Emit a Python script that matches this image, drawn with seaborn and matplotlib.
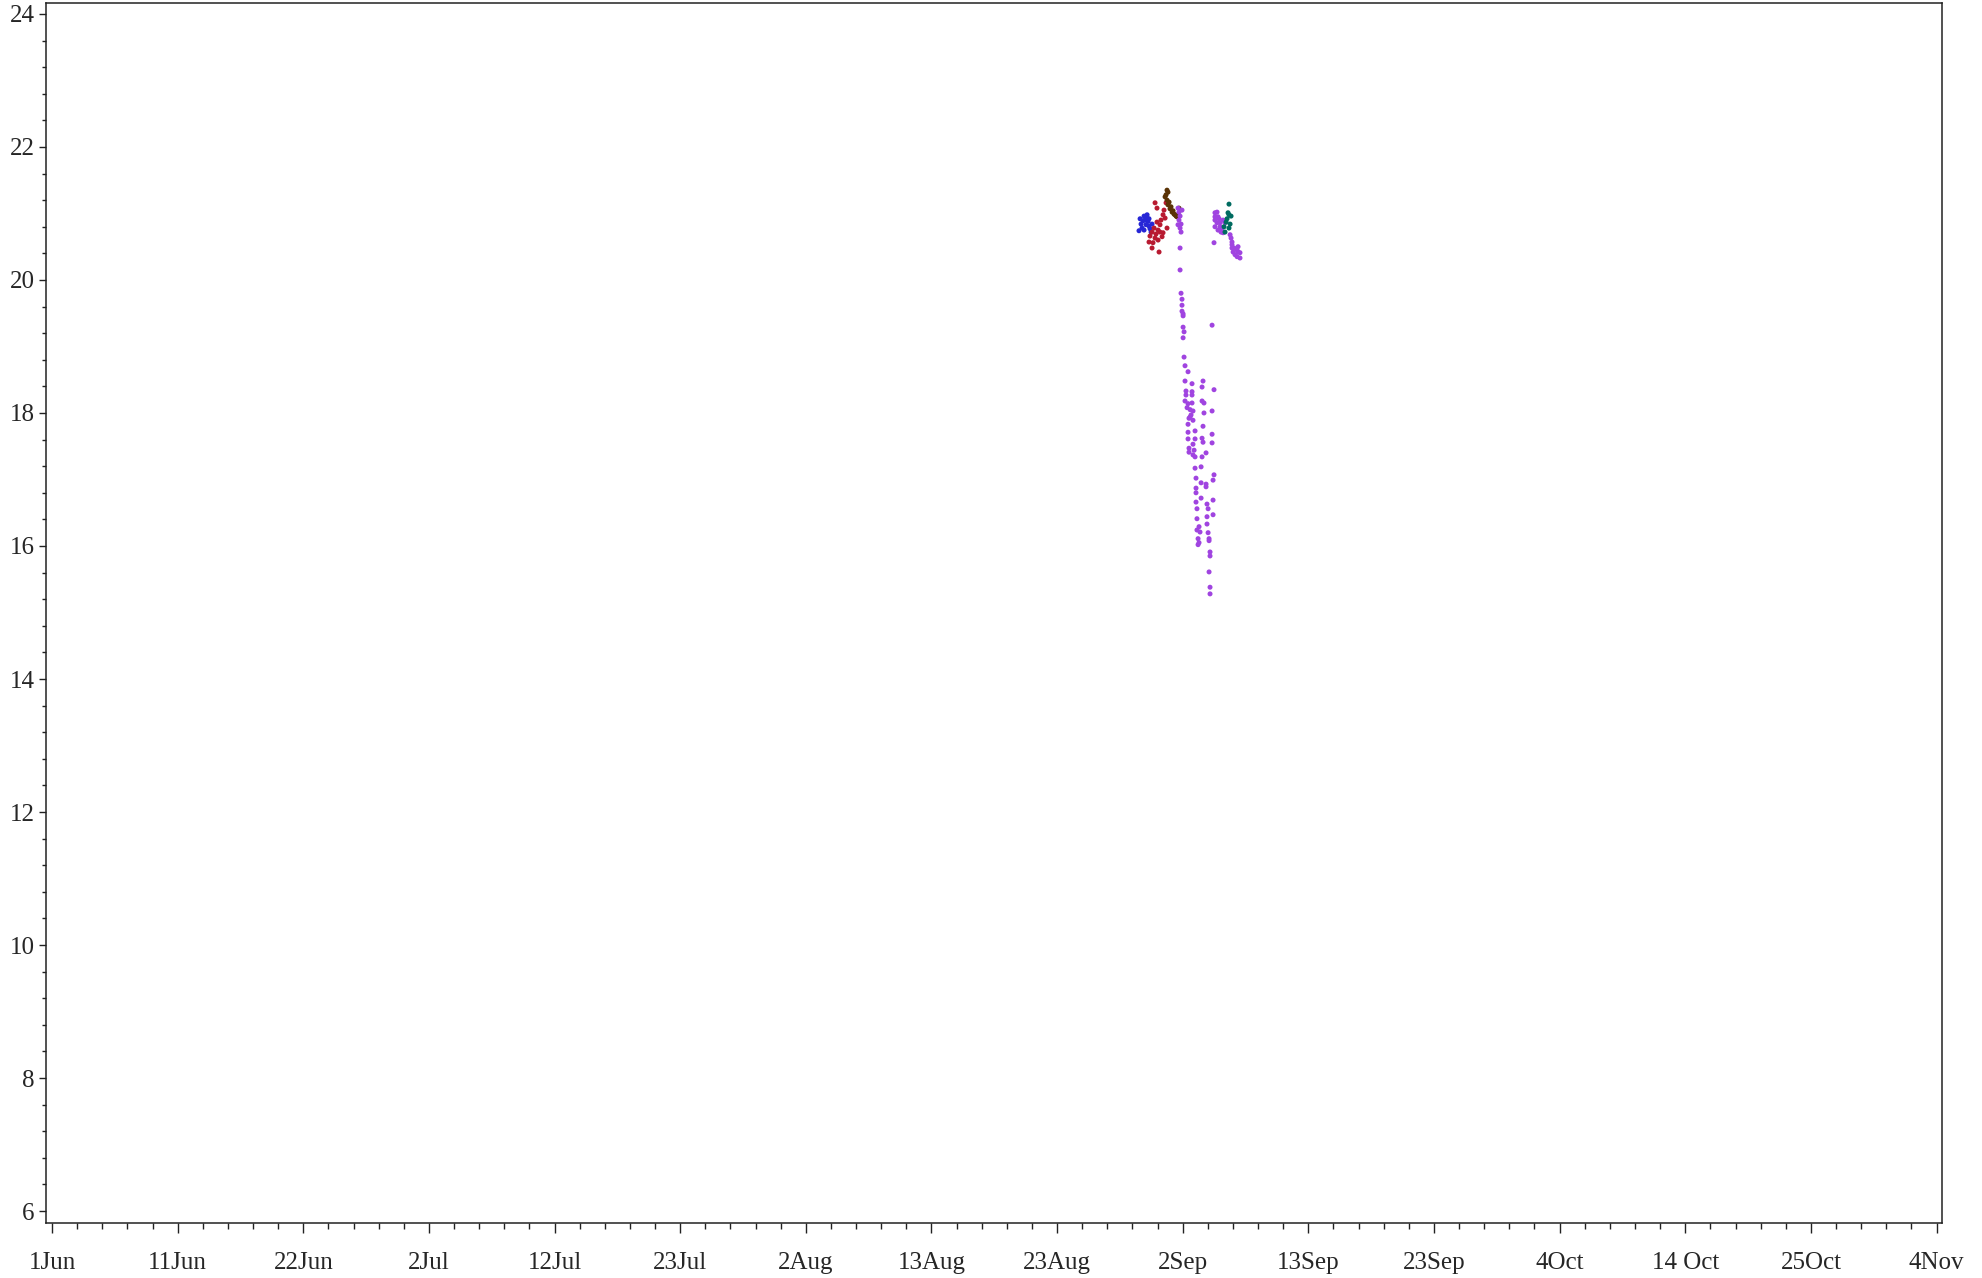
from pathlib import Path

import matplotlib.pyplot as plt
import pandas as pd
import seaborn as sns
from matplotlib.ticker import AutoMinorLocator, FixedLocator, MultipleLocator


OUT_PATH = Path("out.png")

# x values are days since 1 Jun
BLUE_DAY = [90.07, 90.15, 90.23, 90.31, 90.40, 90.48, 90.56, 90.65, 90.73, 90.81, 90.89, 90.98, 91.06, 89.98, 90.65,
            90.40, 90.81]
BLUE_VAL = [20.92, 20.84, 20.78, 20.89, 20.96, 20.90, 20.83, 20.93, 20.88, 20.81, 20.77, 20.72, 20.84, 20.74, 20.98,
            20.75, 20.92]

RED_DAY = [91.31, 91.47, 92.22, 92.05, 91.97, 91.80, 91.72, 91.56, 91.39, 91.31, 91.14, 91.06, 91.64, 90.89, 91.23,
           91.47, 91.72, 91.89, 91.56, 91.06, 92.14, 92.30, 91.97, 90.81]
RED_VAL = [21.16, 21.08, 21.16, 21.05, 20.98, 20.90, 20.83, 20.75, 20.69, 20.63, 20.56, 20.48, 20.42, 20.66, 20.78,
           20.87, 20.72, 20.65, 20.60, 20.72, 20.93, 20.78, 20.71, 20.57]

BROWN_DAY = [92.30, 92.38, 92.22, 92.14, 92.30, 92.38, 92.55, 92.72, 92.88, 93.05, 93.21, 93.29, 92.47, 92.63, 92.80,
             92.96, 93.13]
BROWN_VAL = [21.35, 21.32, 21.28, 21.25, 21.20, 21.13, 21.07, 21.02, 20.99, 20.96, 20.98, 21.08, 21.17, 21.10, 21.04,
             20.98, 20.95]

PURPLE_DAY = [
    93.21, 93.29, 93.38, 93.29, 93.46, 93.38, 93.46, 93.21, 93.54, 93.38, 93.38,
    93.46, 93.54, 93.54, 93.54, 93.63, 93.63, 93.63, 93.71, 93.63, 96.03, 93.71, 93.79, 94.04, 93.79, 95.28,
    94.37, 95.20, 96.19, 93.87, 94.37, 93.87, 94.37, 93.79, 95.20, 95.36, 94.04, 94.37, 93.96, 94.21, 94.45,
    95.36, 96.03, 94.29, 94.12,
    94.21, 94.45, 94.04, 95.28, 94.62, 94.04, 96.03, 94.04, 94.62, 95.20, 95.28, 96.03, 94.45, 94.12, 94.54,
    94.12, 94.45, 94.62, 95.20, 95.53, 95.12, 94.62, 96.19, 94.70, 96.11, 95.12, 95.53, 94.70, 95.53, 94.70,
    95.12, 96.11, 95.61, 94.70, 94.78, 95.70, 96.11, 95.61, 94.78, 95.61, 94.95, 94.78, 95.03, 95.70, 95.78,
    94.87, 94.87, 95.78, 94.95, 95.86, 95.86, 95.78, 95.86, 95.86,
    96.27, 96.44, 96.27, 96.52, 96.27, 96.61, 96.44, 96.69, 96.27, 96.69, 96.85, 96.52, 96.77, 96.94, 97.10,
    96.94, 96.19,
    97.52, 97.60, 97.68, 97.68, 97.68, 97.77, 97.93, 98.10, 98.18, 98.18, 98.34, 98.34, 98.10, 97.85,
]
PURPLE_VAL = [
    21.08, 21.02, 20.96, 20.90, 20.84, 20.78, 20.72, 20.83, 21.05, 20.48, 20.15,
    19.80, 19.71, 19.62, 19.53, 19.49, 19.46, 19.29, 19.22, 19.13, 19.32, 18.84, 18.71, 18.62, 18.48, 18.48,
    18.44, 18.39, 18.35, 18.33, 18.32, 18.27, 18.27, 18.18, 18.18, 18.15, 18.14, 18.15, 18.08, 18.05, 18.03,
    18.00, 18.03, 17.97, 17.92,
    17.94, 17.89, 17.83, 17.80, 17.73, 17.71, 17.68, 17.61, 17.61, 17.62, 17.56, 17.55, 17.53, 17.47, 17.44,
    17.41, 17.37, 17.34, 17.34, 17.40, 17.19, 17.17, 17.07, 17.02, 16.99, 16.95, 16.93, 16.87, 16.89, 16.80,
    16.72, 16.69, 16.63, 16.66, 16.56, 16.56, 16.47, 16.44, 16.41, 16.33, 16.29, 16.24, 16.21, 16.20, 16.11,
    16.11, 16.02, 16.08, 16.05, 15.91, 15.85, 15.61, 15.38, 15.28,
    21.01, 21.02, 20.95, 20.95, 20.90, 20.92, 20.86, 20.86, 20.80, 20.80, 20.78, 20.75, 20.72, 20.71, 20.86,
    20.90, 20.56,
    20.68, 20.63, 20.57, 20.53, 20.48, 20.42, 20.38, 20.35, 20.42, 20.50, 20.41, 20.33, 20.45, 20.48,
]

TEAL_DAY = [97.43, 97.35, 97.43, 97.27, 97.19, 97.02, 97.10, 97.43, 97.52, 97.60]
TEAL_VAL = [21.14, 21.01, 20.98, 20.92, 20.87, 20.80, 20.72, 20.78, 20.84, 20.96]

SERIES_COLORS = {
    "blue": "#2626d6",
    "red": "#b81a30",
    "brown": "#5a3306",
    "purple": "#a044e0",
    "teal": "#006b60",
}

X_TICK_LABELS = ["1Jun", "11Jun", "22Jun", "2Jul", "12Jul", "23Jul", "2Aug", "13Aug", "23Aug", "2Sep",
                 "13Sep", "23Sep", "4Oct", "14 Oct", "25Oct", "4Nov"]
X_SPAN_DAYS = 156


def build_frame():
    parts = [
        ("blue", BLUE_DAY, BLUE_VAL),
        ("red", RED_DAY, RED_VAL),
        ("brown", BROWN_DAY, BROWN_VAL),
        ("purple", PURPLE_DAY, PURPLE_VAL),
        ("teal", TEAL_DAY, TEAL_VAL),
    ]
    frames = [pd.DataFrame({"series": name, "day": days, "value": vals}) for name, days, vals in parts]
    return pd.concat(frames, ignore_index=True)


def build_chart(df):
    sns.set_style("white")
    plt.rcParams["font.family"] = ["Liberation Serif", "DejaVu Serif"]

    fig = plt.figure(figsize=(19.82, 12.78), dpi=100)
    ax = fig.add_axes([0.0232, 0.043, 0.9566, 0.9547])

    sns.scatterplot(
        data=df,
        x="day",
        y="value",
        hue="series",
        palette=SERIES_COLORS,
        s=13,
        linewidth=0,
        marker="o",
        legend=False,
        ax=ax,
    )

    n_ticks = len(X_TICK_LABELS)
    step = X_SPAN_DAYS / (n_ticks - 1)
    ax.xaxis.set_major_locator(FixedLocator([i * step for i in range(n_ticks)]))
    ax.set_xticklabels(X_TICK_LABELS)
    ax.xaxis.set_minor_locator(AutoMinorLocator(5))
    ax.yaxis.set_major_locator(MultipleLocator(2))
    ax.yaxis.set_minor_locator(MultipleLocator(0.4))

    ax.set_xlim(-0.5, 156.45)
    ax.set_ylim(5.82, 24.165)
    ax.set_xlabel("")
    ax.set_ylabel("")

    for spine in ax.spines.values():
        spine.set_color("#222222")
        spine.set_linewidth(1.1)

    ax.tick_params(axis="x", which="major", direction="out", length=7.5, width=1, color="#222222",
                   labelsize=18, pad=13, bottom=True)
    ax.tick_params(axis="x", which="minor", direction="out", length=4.5, width=1, color="#222222", bottom=True)
    ax.tick_params(axis="y", which="major", direction="out", length=5, width=1, color="#222222",
                   labelsize=18, pad=3, left=True)
    ax.tick_params(axis="y", which="minor", direction="out", length=3, width=1, color="#222222", left=True)

    fig.savefig(OUT_PATH, dpi=100)
    plt.close(fig)
    return OUT_PATH


def run():
    df = build_frame()
    chart_path = build_chart(df)
    print(f"Saved chart: {chart_path}")


if __name__ == "__main__":
    run()
